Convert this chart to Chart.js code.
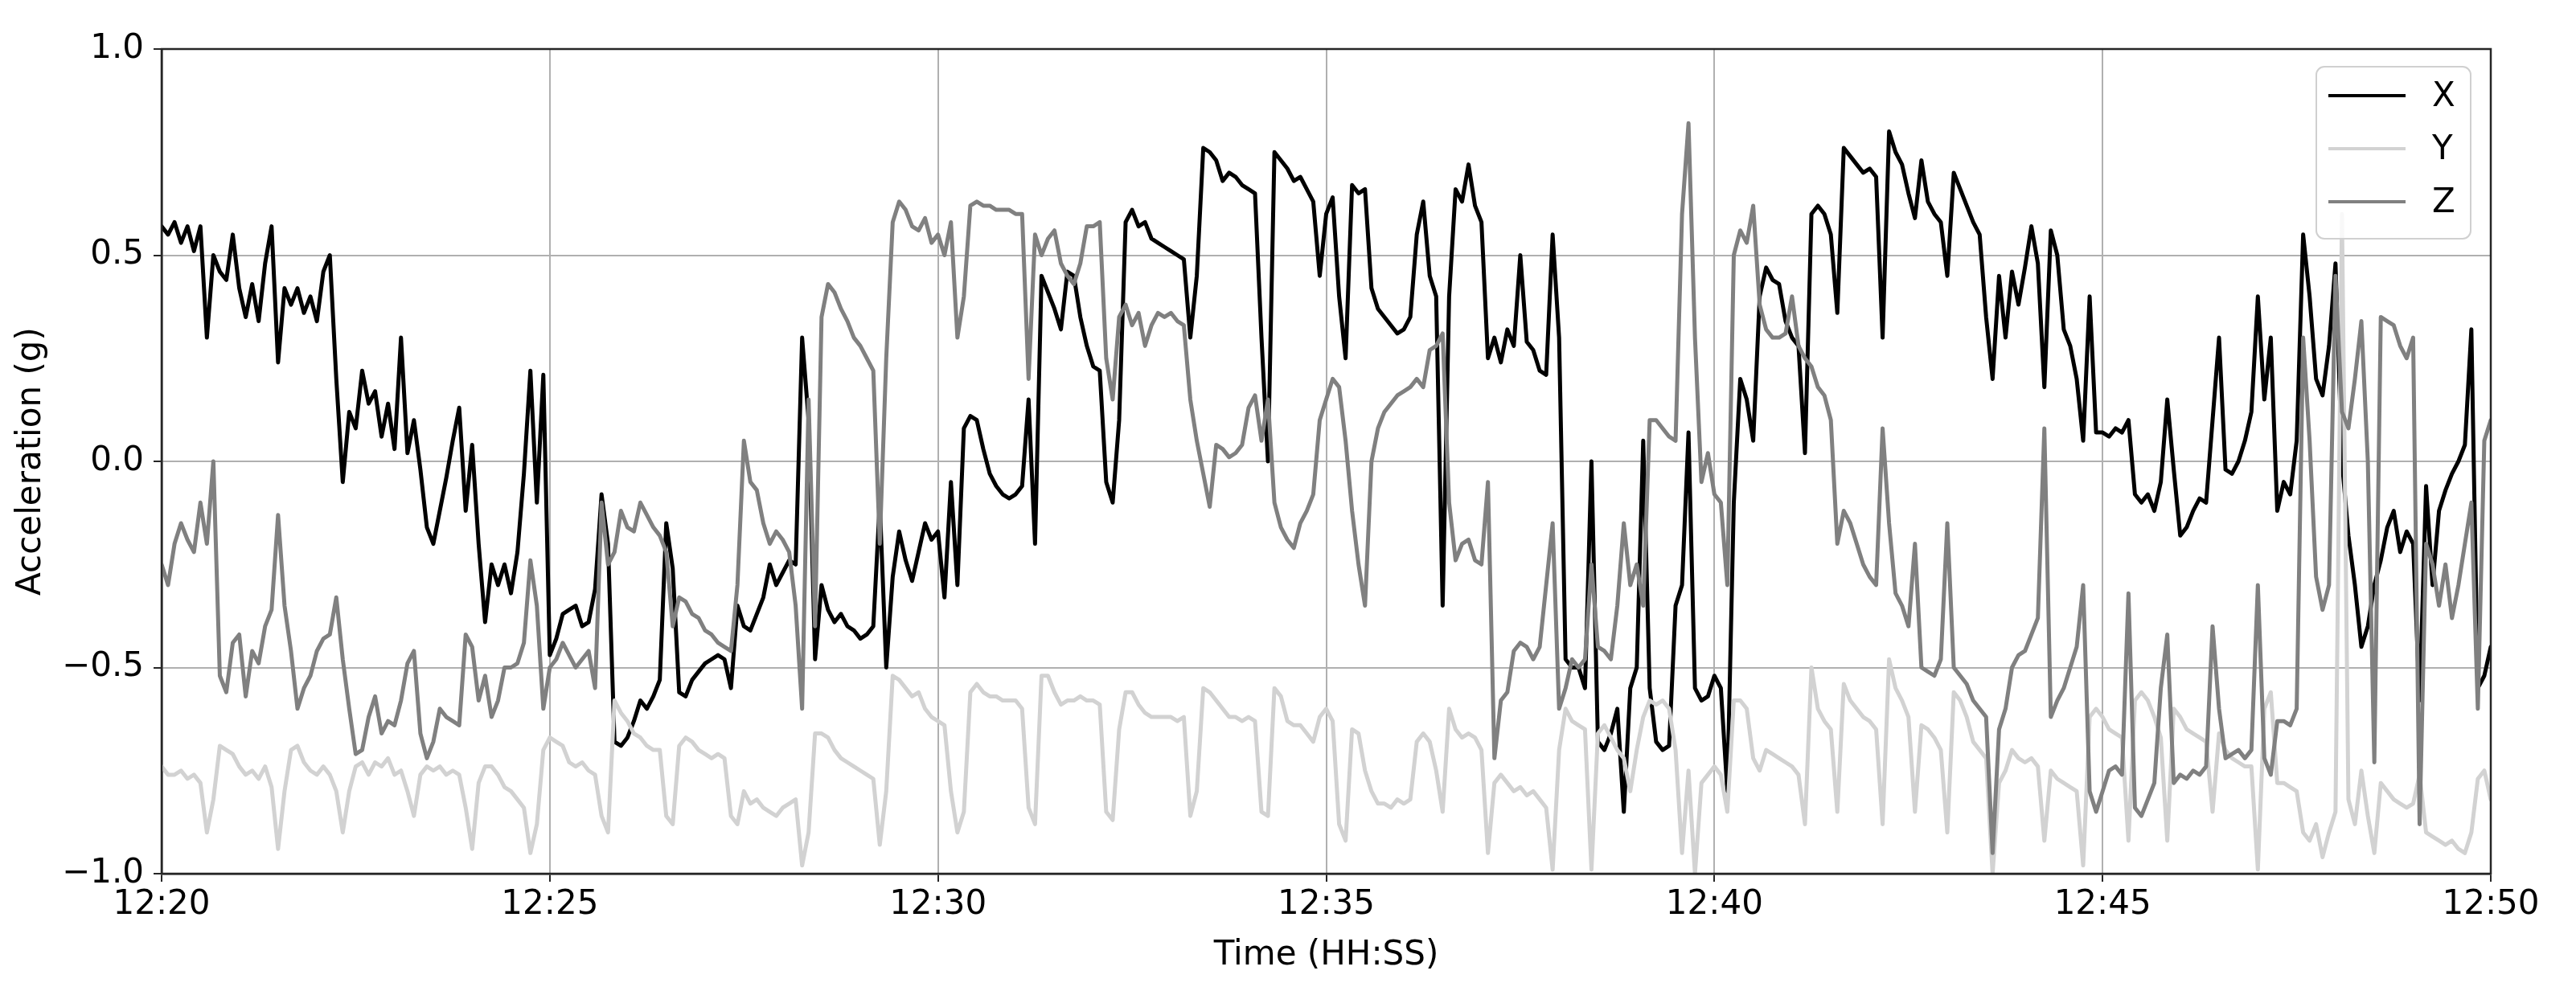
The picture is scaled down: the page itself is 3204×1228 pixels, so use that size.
<!DOCTYPE html>
<html>
<head>
<meta charset="utf-8">
<title>Acceleration</title>
<script src="https://cdn.jsdelivr.net/npm/chart.js@4.4.1/dist/chart.umd.min.js"></script>
<style>
  html, body { margin: 0; padding: 0; background: #fff; }
  canvas { display: block; }
</style>
</head>
<body>
<canvas id="accChart" width="3204" height="1228"></canvas>
<script>
// one reading every 5 s, 12:20:00 -> 12:50:00
const sampleStepSec = 5;
const tickLabels = ['12:20', '12:25', '12:30', '12:35', '12:40', '12:45', '12:50'];
const seriesNames = ['X', 'Y', 'Z'];

const accX = [
  0.57, 0.55, 0.58, 0.53, 0.57, 0.51, 0.57, 0.30, 0.50, 0.46,
  0.44, 0.55, 0.42, 0.35, 0.43, 0.34, 0.48, 0.57, 0.24, 0.42,
  0.38, 0.42, 0.36, 0.40, 0.34, 0.46, 0.50, 0.20, -0.05, 0.12,
  0.08, 0.22, 0.14, 0.17, 0.06, 0.14, 0.03, 0.30, 0.02, 0.10,
  -0.02, -0.16, -0.20, -0.12, -0.04, 0.05, 0.13, -0.12, 0.04, -0.20,
  -0.39, -0.25, -0.30, -0.25, -0.32, -0.22, -0.03, 0.22, -0.10, 0.21,
  // 12:25
  -0.47, -0.43, -0.37, -0.36, -0.35, -0.40, -0.39, -0.31, -0.08, -0.20,
  -0.68, -0.69, -0.67, -0.63, -0.58, -0.60, -0.57, -0.53, -0.15, -0.26,
  -0.56, -0.57, -0.53, -0.51, -0.49, -0.48, -0.47, -0.48, -0.55, -0.35,
  -0.40, -0.41, -0.37, -0.33, -0.25, -0.30, -0.27, -0.24, -0.25, 0.30,
  0.10, -0.48, -0.30, -0.36, -0.39, -0.37, -0.40, -0.41, -0.43, -0.42,
  -0.40, -0.10, -0.50, -0.28, -0.17, -0.24, -0.29, -0.22, -0.15, -0.19,
  // 12:30
  -0.17, -0.33, -0.05, -0.30, 0.08, 0.11, 0.10, 0.03, -0.03, -0.06,
  -0.08, -0.09, -0.08, -0.06, 0.15, -0.20, 0.45, 0.41, 0.37, 0.32,
  0.46, 0.45, 0.35, 0.28, 0.23, 0.22, -0.05, -0.10, 0.10, 0.58,
  0.61, 0.57, 0.58, 0.54, 0.53, 0.52, 0.51, 0.50, 0.49, 0.30,
  0.45, 0.76, 0.75, 0.73, 0.68, 0.70, 0.69, 0.67, 0.66, 0.65,
  0.30, 0.00, 0.75, 0.73, 0.71, 0.68, 0.69, 0.66, 0.63, 0.45,
  // 12:35
  0.60, 0.64, 0.40, 0.25, 0.67, 0.65, 0.66, 0.42, 0.37, 0.35,
  0.33, 0.31, 0.32, 0.35, 0.55, 0.63, 0.45, 0.40, -0.35, 0.40,
  0.66, 0.63, 0.72, 0.62, 0.58, 0.25, 0.30, 0.24, 0.32, 0.28,
  0.50, 0.29, 0.27, 0.22, 0.21, 0.55, 0.30, -0.48, -0.50, -0.50,
  -0.55, 0.00, -0.68, -0.70, -0.66, -0.60, -0.85, -0.55, -0.50, 0.05,
  -0.55, -0.68, -0.70, -0.69, -0.35, -0.30, 0.07, -0.55, -0.58, -0.57,
  // 12:40
  -0.52, -0.55, -0.80, -0.10, 0.20, 0.15, 0.05, 0.40, 0.47, 0.44,
  0.43, 0.34, 0.30, 0.28, 0.02, 0.60, 0.62, 0.60, 0.55, 0.36,
  0.76, 0.74, 0.72, 0.70, 0.71, 0.69, 0.30, 0.80, 0.75, 0.72,
  0.65, 0.59, 0.73, 0.63, 0.60, 0.58, 0.45, 0.70, 0.66, 0.62,
  0.58, 0.55, 0.35, 0.20, 0.45, 0.30, 0.46, 0.38, 0.47, 0.57,
  0.48, 0.18, 0.56, 0.50, 0.32, 0.28, 0.20, 0.05, 0.40, 0.07,
  // 12:45
  0.07, 0.06, 0.08, 0.07, 0.10, -0.08, -0.10, -0.08, -0.12, -0.05,
  0.15, -0.02, -0.18, -0.16, -0.12, -0.09, -0.10, 0.10, 0.30, -0.02,
  -0.03, 0.00, 0.05, 0.12, 0.40, 0.15, 0.30, -0.12, -0.05, -0.08,
  0.05, 0.55, 0.40, 0.20, 0.16, 0.28, 0.48, 0.00, -0.18, -0.30,
  -0.45, -0.40, -0.30, -0.24, -0.16, -0.12, -0.22, -0.17, -0.20, -0.58,
  -0.06, -0.30, -0.12, -0.07, -0.03, 0.00, 0.04, 0.32, -0.55, -0.52,
  -0.45
];

const accY = [
  -0.74, -0.76, -0.76, -0.75, -0.77, -0.76, -0.78, -0.90, -0.82, -0.69,
  -0.70, -0.71, -0.74, -0.76, -0.75, -0.77, -0.74, -0.79, -0.94, -0.80,
  -0.70, -0.69, -0.73, -0.75, -0.76, -0.74, -0.76, -0.80, -0.90, -0.80,
  -0.74, -0.73, -0.76, -0.73, -0.74, -0.72, -0.76, -0.75, -0.80, -0.86,
  -0.76, -0.74, -0.75, -0.74, -0.76, -0.75, -0.76, -0.84, -0.94, -0.78,
  -0.74, -0.74, -0.76, -0.79, -0.80, -0.82, -0.84, -0.95, -0.88, -0.70,
  // 12:25
  -0.67, -0.68, -0.69, -0.73, -0.74, -0.73, -0.75, -0.76, -0.86, -0.90,
  -0.58, -0.61, -0.63, -0.66, -0.67, -0.69, -0.70, -0.70, -0.86, -0.88,
  -0.69, -0.67, -0.68, -0.70, -0.71, -0.72, -0.71, -0.72, -0.86, -0.88,
  -0.80, -0.83, -0.82, -0.84, -0.85, -0.86, -0.84, -0.83, -0.82, -0.98,
  -0.90, -0.66, -0.66, -0.67, -0.70, -0.72, -0.73, -0.74, -0.75, -0.76,
  -0.77, -0.93, -0.80, -0.52, -0.53, -0.55, -0.57, -0.56, -0.60, -0.62,
  // 12:30
  -0.63, -0.64, -0.80, -0.90, -0.85, -0.56, -0.54, -0.56, -0.57, -0.57,
  -0.58, -0.58, -0.58, -0.60, -0.84, -0.88, -0.52, -0.52, -0.56, -0.59,
  -0.58, -0.58, -0.57, -0.58, -0.58, -0.59, -0.85, -0.87, -0.65, -0.56,
  -0.56, -0.59, -0.61, -0.62, -0.62, -0.62, -0.62, -0.63, -0.62, -0.86,
  -0.80, -0.55, -0.56, -0.58, -0.60, -0.62, -0.62, -0.63, -0.62, -0.63,
  -0.85, -0.86, -0.55, -0.57, -0.63, -0.64, -0.64, -0.66, -0.68, -0.62,
  // 12:35
  -0.60, -0.63, -0.88, -0.92, -0.65, -0.66, -0.75, -0.80, -0.83, -0.83,
  -0.84, -0.82, -0.83, -0.82, -0.68, -0.66, -0.68, -0.75, -0.85, -0.60,
  -0.65, -0.67, -0.66, -0.67, -0.70, -0.95, -0.78, -0.76, -0.78, -0.80,
  -0.79, -0.81, -0.80, -0.82, -0.84, -0.99, -0.70, -0.60, -0.63, -0.64,
  -0.65, -0.99, -0.66, -0.64, -0.67, -0.70, -0.72, -0.80, -0.70, -0.62,
  -0.58, -0.59, -0.58, -0.60, -0.70, -0.95, -0.75, -1.00, -0.78, -0.76,
  // 12:40
  -0.74, -0.76, -0.85, -0.58, -0.58, -0.60, -0.72, -0.75, -0.70, -0.71,
  -0.72, -0.73, -0.74, -0.76, -0.88, -0.50, -0.60, -0.63, -0.65, -0.85,
  -0.54, -0.58, -0.60, -0.62, -0.63, -0.65, -0.88, -0.48, -0.55, -0.58,
  -0.62, -0.85, -0.64, -0.65, -0.67, -0.70, -0.90, -0.56, -0.58, -0.62,
  -0.68, -0.70, -0.72, -1.00, -0.78, -0.75, -0.70, -0.72, -0.73, -0.72,
  -0.74, -0.92, -0.75, -0.77, -0.78, -0.79, -0.80, -0.98, -0.62, -0.60,
  // 12:45
  -0.62, -0.65, -0.66, -0.67, -0.92, -0.58, -0.56, -0.58, -0.62, -0.67,
  -0.92, -0.60, -0.62, -0.65, -0.66, -0.67, -0.68, -0.85, -0.66, -0.70,
  -0.72, -0.73, -0.74, -0.74, -0.99, -0.60, -0.56, -0.78, -0.78, -0.79,
  -0.80, -0.90, -0.92, -0.88, -0.96, -0.90, -0.85, 0.60, -0.82, -0.88,
  -0.75, -0.86, -0.95, -0.78, -0.80, -0.82, -0.83, -0.84, -0.83, -0.76,
  -0.90, -0.91, -0.92, -0.93, -0.92, -0.94, -0.95, -0.90, -0.77, -0.75,
  -0.82
];

const accZ = [
  -0.25, -0.30, -0.20, -0.15, -0.19, -0.22, -0.10, -0.20, 0.00, -0.52,
  -0.56, -0.44, -0.42, -0.57, -0.46, -0.49, -0.40, -0.36, -0.13, -0.35,
  -0.46, -0.60, -0.55, -0.52, -0.46, -0.43, -0.42, -0.33, -0.48, -0.60,
  -0.71, -0.70, -0.62, -0.57, -0.66, -0.63, -0.64, -0.58, -0.49, -0.46,
  -0.66, -0.72, -0.68, -0.60, -0.62, -0.63, -0.64, -0.42, -0.45, -0.58,
  -0.52, -0.62, -0.58, -0.50, -0.50, -0.49, -0.44, -0.24, -0.35, -0.60,
  // 12:25
  -0.50, -0.48, -0.44, -0.47, -0.50, -0.48, -0.46, -0.55, -0.10, -0.25,
  -0.22, -0.12, -0.16, -0.17, -0.10, -0.13, -0.16, -0.18, -0.22, -0.40,
  -0.33, -0.34, -0.37, -0.38, -0.41, -0.42, -0.44, -0.45, -0.46, -0.30,
  0.05, -0.05, -0.07, -0.15, -0.20, -0.17, -0.19, -0.22, -0.35, -0.60,
  0.15, -0.40, 0.35, 0.43, 0.41, 0.37, 0.34, 0.30, 0.28, 0.25,
  0.22, -0.20, 0.25, 0.58, 0.63, 0.61, 0.57, 0.56, 0.59, 0.53,
  // 12:30
  0.55, 0.50, 0.58, 0.30, 0.40, 0.62, 0.63, 0.62, 0.62, 0.61,
  0.61, 0.61, 0.60, 0.60, 0.20, 0.55, 0.50, 0.54, 0.56, 0.48,
  0.45, 0.43, 0.48, 0.57, 0.57, 0.58, 0.25, 0.15, 0.35, 0.38,
  0.33, 0.36, 0.28, 0.33, 0.36, 0.35, 0.36, 0.34, 0.33, 0.15,
  0.05, -0.03, -0.11, 0.04, 0.03, 0.01, 0.02, 0.04, 0.13, 0.16,
  0.05, 0.15, -0.10, -0.16, -0.19, -0.21, -0.15, -0.12, -0.08, 0.10,
  // 12:35
  0.15, 0.20, 0.18, 0.05, -0.12, -0.25, -0.35, 0.00, 0.08, 0.12,
  0.14, 0.16, 0.17, 0.18, 0.20, 0.18, 0.27, 0.28, 0.31, -0.10,
  -0.24, -0.20, -0.19, -0.24, -0.25, -0.05, -0.72, -0.58, -0.56, -0.46,
  -0.44, -0.45, -0.48, -0.45, -0.30, -0.15, -0.60, -0.55, -0.48, -0.50,
  -0.48, -0.25, -0.45, -0.46, -0.48, -0.35, -0.15, -0.30, -0.25, -0.35,
  0.10, 0.10, 0.08, 0.06, 0.05, 0.60, 0.82, 0.30, -0.05, 0.02,
  // 12:40
  -0.08, -0.10, -0.30, 0.50, 0.56, 0.53, 0.62, 0.38, 0.32, 0.30,
  0.30, 0.31, 0.40, 0.28, 0.25, 0.23, 0.18, 0.16, 0.10, -0.20,
  -0.12, -0.15, -0.20, -0.25, -0.28, -0.30, 0.08, -0.15, -0.32, -0.35,
  -0.40, -0.20, -0.50, -0.51, -0.52, -0.48, -0.15, -0.50, -0.52, -0.54,
  -0.58, -0.60, -0.62, -0.95, -0.65, -0.60, -0.50, -0.47, -0.46, -0.42,
  -0.38, 0.08, -0.62, -0.58, -0.55, -0.50, -0.45, -0.30, -0.80, -0.85,
  // 12:45
  -0.80, -0.75, -0.74, -0.76, -0.32, -0.84, -0.86, -0.82, -0.78, -0.55,
  -0.42, -0.78, -0.76, -0.77, -0.75, -0.76, -0.74, -0.40, -0.60, -0.72,
  -0.71, -0.70, -0.72, -0.70, -0.30, -0.72, -0.76, -0.63, -0.63, -0.64,
  -0.60, 0.30, 0.05, -0.28, -0.36, -0.30, 0.45, 0.12, 0.08, 0.20,
  0.34, 0.00, -0.73, 0.35, 0.34, 0.33, 0.28, 0.25, 0.30, -0.88,
  -0.20, -0.25, -0.35, -0.25, -0.38, -0.30, -0.20, -0.10, -0.60, 0.05,
  0.10
];

const lineColors = ['#000000', '#d2d2d2', '#808080'];
const FONT = "'DejaVu Sans', sans-serif";

function toPoints(values) {
  return values.map((v, i) => ({ x: i * sampleStepSec, y: v }));
}

// matplotlib-like frame around the plot area
const framePlugin = {
  id: 'frame',
  afterDatasetsDraw(chart) {
    const { ctx, chartArea: a } = chart;
    ctx.save();
    ctx.strokeStyle = '#262626';
    ctx.lineWidth = 2.5;
    ctx.strokeRect(a.left, a.top, a.right - a.left, a.bottom - a.top);
    ctx.restore();
  }
};

// legend box in the upper right corner
const legendBoxPlugin = {
  id: 'legendBox',
  afterDraw(chart) {
    const { ctx } = chart;
    const x0 = 2881, y0 = 83, w = 192, h = 214, r = 10;
    ctx.save();
    ctx.fillStyle = 'rgba(255,255,255,0.85)';
    ctx.strokeStyle = '#d0d0d0';
    ctx.lineWidth = 2;
    ctx.beginPath();
    ctx.roundRect(x0, y0, w, h, r);
    ctx.fill();
    ctx.stroke();
    ctx.font = '42px ' + FONT;
    ctx.textBaseline = 'middle';
    ctx.fillStyle = '#000';
    chart.data.datasets.forEach((ds, i) => {
      const cy = y0 + 36 + i * 66;
      ctx.strokeStyle = ds.borderColor;
      ctx.lineWidth = 4;
      ctx.beginPath();
      ctx.moveTo(x0 + 15, cy);
      ctx.lineTo(x0 + 111, cy);
      ctx.stroke();
      ctx.fillText(ds.label, x0 + 144, cy + 2);
    });
    ctx.restore();
  }
};

const series = [accX, accY, accZ];

new Chart(document.getElementById('accChart'), {
  type: 'line',
  data: {
    datasets: series.map((vals, i) => ({
      label: seriesNames[i],
      data: toPoints(vals),
      borderColor: lineColors[i],
      backgroundColor: lineColors[i],
      borderWidth: 5,
      borderJoinStyle: 'round',
      borderCapStyle: 'round',
      pointRadius: 0,
      tension: 0,
      fill: false,
      order: 2 - i
    }))
  },
  options: {
    responsive: false,
    animation: false,
    devicePixelRatio: 1,
    parsing: false,
    normalized: true,
    layout: { padding: { top: 61, right: 106, left: 0, bottom: 0 } },
    plugins: {
      legend: { display: false },
      tooltip: { enabled: false }
    },
    scales: {
      x: {
        type: 'linear',
        min: 0,
        max: 1800,
        afterFit(scale) { scale.height = 141; },
        ticks: {
          stepSize: 300,
          color: '#000',
          font: { family: FONT, size: 42 },
          padding: 4,
          maxRotation: 0,
          callback: (v) => tickLabels[Math.round(v / 300)]
        },
        grid: {
          color: '#b0b0b0',
          lineWidth: 2,
          tickLength: 10,
          tickColor: '#262626',
          tickWidth: 2
        },
        border: { color: '#262626', width: 2.5 },
        title: {
          display: true,
          text: 'Time (HH:SS)',
          color: '#000',
          font: { family: FONT, size: 42 },
          padding: { top: 0, bottom: 14 }
        }
      },
      y: {
        min: -1,
        max: 1,
        afterFit(scale) { scale.width = 201; },
        ticks: {
          stepSize: 0.5,
          color: '#000',
          font: { family: FONT, size: 42 },
          padding: 12,
          callback: (v) => v.toFixed(1).replace('-', '\u2212')
        },
        grid: {
          color: '#b0b0b0',
          lineWidth: 2,
          tickLength: 10,
          tickColor: '#262626',
          tickWidth: 2
        },
        border: { color: '#262626', width: 2.5 },
        title: {
          display: true,
          text: 'Acceleration (g)',
          color: '#000',
          font: { family: FONT, size: 42 },
          padding: { top: 14, bottom: 0 }
        }
      }
    }
  },
  plugins: [framePlugin, legendBoxPlugin]
});
</script>
</body>
</html>
